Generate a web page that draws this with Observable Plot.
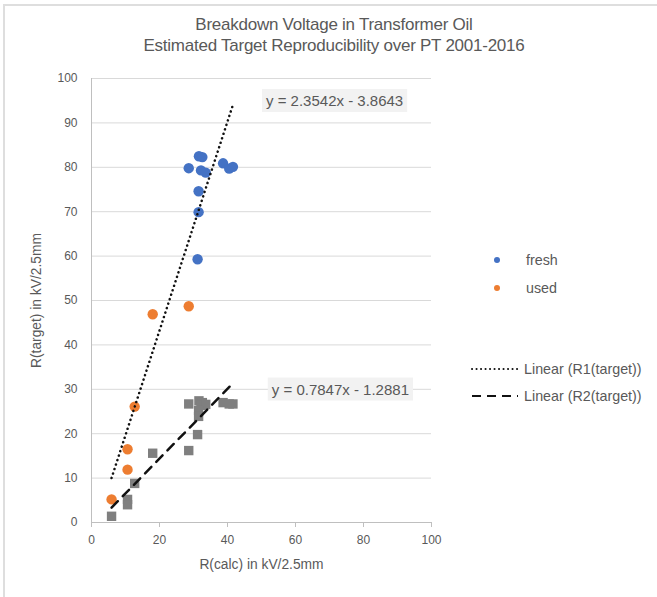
<!DOCTYPE html>
<html>
<head>
<meta charset="utf-8">
<script src="https://cdn.jsdelivr.net/npm/d3@7"></script>
<script src="https://cdn.jsdelivr.net/npm/@observablehq/plot@0.6"></script>
<style>
  html, body { margin: 0; padding: 0; background: #fff; }
  #wrap { position: relative; width: 657px; height: 597px; font-family: "Liberation Sans", Arial, sans-serif; color: #595959; }
  #frame { position: absolute; left: 3px; top: 4px; right: 0; bottom: 0; border-top: 2px solid #dedede; border-left: 2px solid #dedede; pointer-events: none; z-index: 5; }
  #title { position: absolute; left: 0; width: 668px; top: 14px; text-align: center; font-size: 17px; line-height: 21px; color: #595959; letter-spacing: -0.25px; }
  #legend { position: absolute; left: 468px; top: 250px; font-size: 14.3px; color: #595959; }
  .lg { position: absolute; white-space: nowrap; }
  #plot { position: absolute; left: 0; top: 0; }
</style>
</head>
<body>
<div id="wrap">
  <div id="plot"></div>
  <div id="frame"></div>
  <div id="title">Breakdown Voltage in Transformer Oil<br>Estimated Target Reproducibility over PT 2001-2016</div>
  <div id="legend"></div>
</div>
<script>
// ---- data ----
const freshCalc   = [28.6, 31.6, 32.6, 32.2, 33.6, 38.7, 40.5, 41.6, 31.5, 31.5, 31.2];
const freshR1     = [79.8, 82.5, 82.3, 79.3, 78.8, 80.9, 79.7, 80.1, 74.6, 69.9, 59.3];
const freshR2     = [26.7, 27.4, 27.0, 26.4, 26.6, 27.0, 26.7, 26.7, 25.2, 23.9, 19.8];
const usedCalc    = [18.0, 28.6, 12.7, 10.6, 10.6, 5.9];
const usedR1      = [46.9, 48.7, 26.1, 16.5, 11.9, 5.2];
const usedR2      = [15.6, 16.2, 8.8, 5.2, 4.0, 1.4];
const xTicks = [0, 20, 40, 60, 80, 100];
const yTicks = [0, 10, 20, 30, 40, 50, 60, 70, 80, 90, 100];
// trendline coefficients printed on the chart
const fit1 = {slope: 2.3542, intercept: -3.8643, label: "y = 2.3542x - 3.8643", lx: 71.5, ly: 94.9};
const fit2 = {slope: 0.7847, intercept: -1.2881, label: "y = 0.7847x - 1.2881", lx: 73.2, ly: 29.9};

const colFresh = "#4472C4", colUsed = "#ED7D31", colR2 = "#7F7F7F";

const fresh = freshCalc.map((x, i) => ({x, y: freshR1[i]}));
const used = usedCalc.map((x, i) => ({x, y: usedR1[i]}));
const allCalc = freshCalc.concat(usedCalc);
const allR2 = freshR2.concat(usedR2);
const r2 = allCalc.map((x, i) => ({x, y: allR2[i]}));
const xMin = d3.min(allCalc), xMax = d3.max(allCalc);
const trend = f => [xMin, xMax].map(x => ({x, y: f.slope * x + f.intercept}));

const chart = Plot.plot({
  width: 657,
  height: 597,
  marginLeft: 91,
  marginRight: 226,
  marginTop: 78,
  marginBottom: 75,
  style: {fontFamily: "Liberation Sans, Arial, sans-serif", fontSize: "12px", color: "#595959", background: "transparent"},
  x: {domain: [0, 100], ticks: xTicks, label: null},
  y: {domain: [0, 100], ticks: yTicks, label: null},
  marks: [
    Plot.gridY(yTicks.filter(d => d > 0), {stroke: "#d9d9d9", strokeOpacity: 1, strokeWidth: 1}),
    Plot.ruleX([0], {stroke: "#bfbfbf", strokeWidth: 1}),
    Plot.ruleY([0], {stroke: "#bfbfbf", strokeWidth: 1}),
    Plot.axisX({ticks: xTicks, tickSize: 5, stroke: "#bfbfbf", tickPadding: 8, fill: "#595959", fontSize: 12, label: null}),
    Plot.axisY({ticks: yTicks, tickSize: 0, tickPadding: 14, fill: "#595959", fontSize: 12, label: null}),
    Plot.text(["R(calc) in kV/2.5mm"], {frameAnchor: "bottom", dy: 46, fill: "#595959", fontSize: 13.8}),
    Plot.text(["R(target) in kV/2.5mm"], {frameAnchor: "left", textAnchor: "middle", dx: -55, rotate: -90, fill: "#595959", fontSize: 13.8}),
    Plot.dot(r2, {x: "x", y: "y", symbol: "square", r: 5.3, fill: colR2}),
    Plot.dot(fresh, {x: "x", y: "y", r: 5.2, fill: colFresh}),
    Plot.dot(used, {x: "x", y: "y", r: 5.2, fill: colUsed}),
    Plot.line(trend(fit1), {x: "x", y: "y", stroke: "#111", strokeWidth: 2.5, strokeDasharray: "0.1 4.6", strokeLinecap: "round"}),
    Plot.line(trend(fit2), {x: "x", y: "y", stroke: "#111", strokeWidth: 2.5, strokeDasharray: "9 7"}),
    Plot.text([fit1, fit2], {x: "lx", y: "ly", text: "label", fill: "#595959", fontSize: 15})
  ]
});
document.getElementById("plot").appendChild(chart);

// grey background boxes behind the equation labels
d3.select(chart).selectAll("text").filter(function() {
  return /^y = /.test(this.textContent);
}).each(function() {
  const b = this.getBBox();
  const tr = this.getAttribute("transform");
  const rect = d3.select(this.parentNode).insert("rect", () => this)
    .attr("x", b.x - 4).attr("y", b.y - 3)
    .attr("width", b.width + 8).attr("height", b.height + 6)
    .attr("fill", "#f2f2f2");
  if (tr) rect.attr("transform", tr);
});

// legend
const legendItems = [
  {label: "fresh", kind: "dot", color: colFresh},
  {label: "used", kind: "dot", color: colUsed},
  {label: "Linear (R1(target))", kind: "dotted"},
  {label: "Linear (R2(target))", kind: "dashed"}
];
const legendTop = [10, 38, 119, 146];
const lg = d3.select("#legend");
legendItems.forEach((it, i) => {
  const row = lg.append("div").attr("class", "lg").style("top", (legendTop[i] - 9) + "px").style("left", "0px");
  const svg = row.append("svg").attr("width", 54).attr("height", 18).style("vertical-align", "middle");
  if (it.kind === "dot") {
    svg.append("circle").attr("cx", 29).attr("cy", 9).attr("r", 3).attr("fill", it.color);
    row.append("span").text(it.label).style("position", "relative").style("left", "4px").style("top", "1px");
  } else {
    svg.append("line").attr("x1", 4).attr("x2", 50).attr("y1", 9).attr("y2", 9)
      .attr("stroke", "#111").attr("stroke-width", 2)
      .attr("stroke-dasharray", it.kind === "dotted" ? "0.1 4.4" : "9 6")
      .attr("stroke-linecap", it.kind === "dotted" ? "round" : "butt");
    row.append("span").text(it.label).style("position", "relative").style("left", "2px").style("top", "1px");
  }
});
</script>
</body>
</html>
